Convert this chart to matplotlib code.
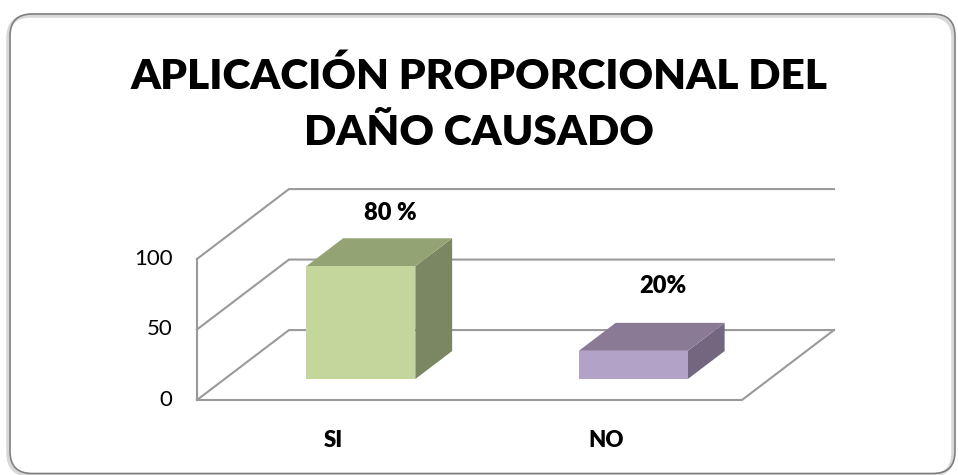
import numpy as np
import matplotlib
matplotlib.use("Agg")
import matplotlib.pyplot as plt
from matplotlib.patches import Polygon, FancyBboxPatch
from matplotlib.transforms import IdentityTransform

# data
categories = ["SI", "NO"]
values = [80, 20]
value_labels = ["80 %", "20%"]
yticks = [0, 50, 100]

# colours: front face, top, side
front_cols = ["#C3D69B", "#B3A2C7"]
top_cols = ["#94A374", "#8A7A96"]
side_cols = ["#7A8762", "#736780"]
grid_col = "#9A9A9A"

plt.rcParams['font.family'] = ['Lato', 'DejaVu Sans']

fig = plt.figure(figsize=(9.58, 4.75), dpi=100)
ax = fig.add_axes([0, 0, 1, 1])
ax.set_xlim(-0.7229, 2.7927)
ax.set_ylim(-53.2, 283.7)
ax.axis('off')

# oblique depth offset (x units, value units)
dx, dy = 0.3376, 49.6
n = len(categories)

# walls / gridlines
for v in yticks:
    ax.plot([0, dx, n + dx], [v, v + dy, v + dy], color=grid_col, lw=1.5,
            solid_joinstyle='miter', zorder=1)
ax.plot([0, 0], [0, max(yticks)], color=grid_col, lw=1.5, zorder=1)
ax.plot([0, n, n + dx], [0, 0, dy], color=grid_col, lw=1.5, zorder=1)

# bars
w = 0.2
d0, d1 = 0.3, 0.7
for i, v in enumerate(values):
    c = i + 0.5
    xl, xr = c - w, c + w
    front = [(xl + d0 * dx, d0 * dy), (xr + d0 * dx, d0 * dy),
             (xr + d0 * dx, v + d0 * dy), (xl + d0 * dx, v + d0 * dy)]
    top = [(xl + d0 * dx, v + d0 * dy), (xr + d0 * dx, v + d0 * dy),
           (xr + d1 * dx, v + d1 * dy), (xl + d1 * dx, v + d1 * dy)]
    side = [(xr + d0 * dx, d0 * dy), (xr + d1 * dx, d1 * dy),
            (xr + d1 * dx, v + d1 * dy), (xr + d0 * dx, v + d0 * dy)]
    ax.add_patch(Polygon(side, closed=True, fc=side_cols[i], ec='none', zorder=3))
    ax.add_patch(Polygon(top, closed=True, fc=top_cols[i], ec='none', zorder=3))
    ax.add_patch(Polygon(front, closed=True, fc=front_cols[i], ec='none', zorder=4))

    # category label
    ax.text(c, -28.4, categories[i], ha='center', va='center',
            fontsize=16, fontweight='heavy')

# value labels (placed above the bar tops)
label_off = [18, 26]
for i, v in enumerate(values):
    c = i + 0.5
    ax.text(c + 0.62 * dx, v + d1 * dy + label_off[i], value_labels[i],
            ha='center', va='center', fontsize=17, fontweight='heavy')

# y tick labels
for v in yticks:
    ax.text(-0.09, v, str(v), ha='right', va='center', fontsize=16)

# title
fig.text(0.5, 1 - 76 / 475, "APLICACIÓN PROPORCIONAL DEL", ha='center', va='center',
         fontsize=30.5, fontweight='heavy')
fig.text(0.5, 1 - 133 / 475, "DAÑO CAUSADO", ha='center', va='center',
         fontsize=30.5, fontweight='heavy')

# rounded chart border with a soft shadow
shadow = FancyBboxPatch((8, 0), 945, 459, boxstyle="round,pad=0,rounding_size=22",
                        transform=IdentityTransform(), fc='none', ec='#D8D8D8', lw=2.5)
border = FancyBboxPatch((10, 1.5), 945, 459.5, boxstyle="round,pad=0,rounding_size=22",
                        transform=IdentityTransform(), fc='none', ec='#7F7F7F', lw=1.2)
fig.patches.extend([shadow, border])

fig.savefig("out.png", dpi=100)
